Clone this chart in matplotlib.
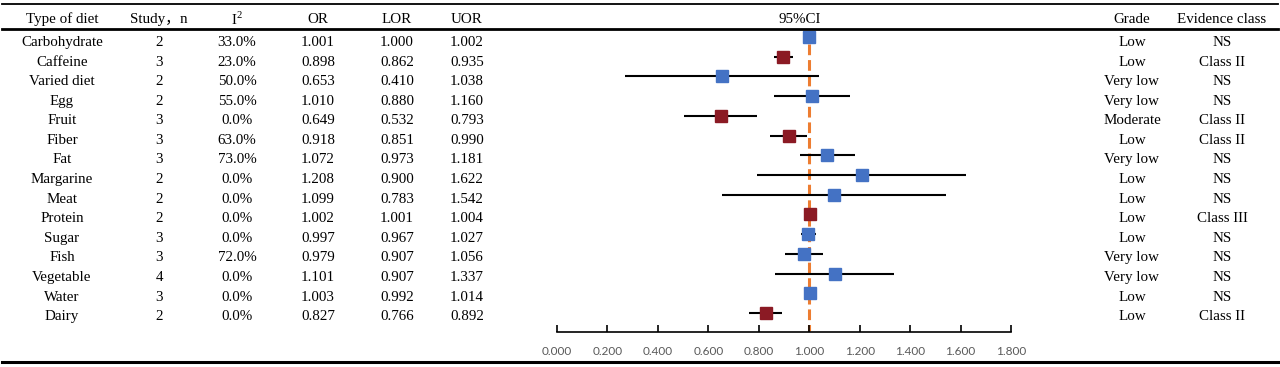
import matplotlib
matplotlib.use('Agg')
import numpy as np
import matplotlib.pyplot as plt
from matplotlib.lines import Line2D
import matplotlib.transforms as mtransforms

plt.rcParams['font.family'] = ['Liberation Serif', 'Noto Sans CJK SC']
plt.rcParams['mathtext.fontset'] = 'custom'
plt.rcParams['mathtext.rm'] = 'Liberation Serif'

diets = ['Carbohydrate', 'Caffeine', 'Varied diet', 'Egg', 'Fruit', 'Fiber', 'Fat',
         'Margarine', 'Meat', 'Protein', 'Sugar', 'Fish', 'Vegetable', 'Water', 'Dairy']
studies = [2, 3, 2, 2, 3, 3, 3, 2, 2, 2, 3, 3, 4, 3, 2]
i2 = [33.0, 23.0, 50.0, 55.0, 0.0, 63.0, 73.0, 0.0, 0.0, 0.0, 0.0, 72.0, 0.0, 0.0, 0.0]
or_vals = [1.001, 0.898, 0.653, 1.010, 0.649, 0.918, 1.072, 1.208, 1.099, 1.002,
           0.997, 0.979, 1.101, 1.003, 0.827]
lor = [1.000, 0.862, 0.410, 0.880, 0.532, 0.851, 0.973, 0.900, 0.783, 1.001,
       0.967, 0.907, 0.907, 0.992, 0.766]
uor = [1.002, 0.935, 1.038, 1.160, 0.793, 0.990, 1.181, 1.622, 1.542, 1.004,
       1.027, 1.056, 1.337, 1.014, 0.892]
grade = ['Low', 'Low', 'Very low', 'Very low', 'Moderate', 'Low', 'Very low', 'Low',
         'Low', 'Low', 'Low', 'Very low', 'Very low', 'Low', 'Low']
evidence = ['NS', 'Class II', 'NS', 'NS', 'Class II', 'Class II', 'NS', 'NS', 'NS',
            'Class III', 'NS', 'NS', 'NS', 'NS', 'Class II']
x_ticks = [0.0, 0.2, 0.4, 0.6, 0.8, 1.0, 1.2, 1.4, 1.6, 1.8]

W, H = 1280, 367
fig = plt.figure(figsize=(W / 100, H / 100), dpi=100)

row0, step = 37, 19.72  # pixel y of first marker row, row spacing
def py(p):
    # pixel y -> row units
    return (p - row0) / step

ax = fig.add_axes([557 / W, 0, 454 / W, 1])
ax.set_xlim(0, 1.8)
ax.set_ylim(py(H), py(0))
ax.axis('off')

rows = np.arange(len(diets))
blue, red = '#4472C4', '#8B1A24'

# reference line
ax.plot([1, 1], [py(44), py(331)], color='#ED7D31', lw=2.2, ls=(0, (3.5, 1.6)), zorder=1)

# the original error bars are symmetric: OR +/- (UOR - OR)
err = np.array(uor) - np.array(or_vals)
for i in rows:
    c = blue if evidence[i] == 'NS' else red
    ax.errorbar(or_vals[i], i, xerr=err[i], fmt='none', ecolor='black', elinewidth=1.5,
                capsize=0, zorder=2)
    ax.plot(or_vals[i], i, marker='s', ms=8.3, color=c, mec=c, zorder=3)

# x axis
ax2 = fig.add_axes([557 / W, (H - 332) / H, 454 / W, 0.0001])
ax2.set_xlim(0, 1.8)
ax2.set_ylim(0, 1)
for s in ['left', 'right', 'top']:
    ax2.spines[s].set_visible(False)
ax2.spines['bottom'].set_linewidth(1.2)
ax2.set_yticks([])
ax2.set_xticks(x_ticks)
ax2.set_xticklabels(['%.3f' % t for t in x_ticks], family='Lato', fontsize=8.5, color='#595959')
ax2.tick_params(axis='x', direction='in', length=5, width=1.2, pad=10)
ax2.patch.set_visible(False)

# table text (x in figure pixels, y in pixel rows)
tr = mtransforms.blended_transform_factory(fig.transFigure, ax.transData)
fs = 10.8
col_x = [62, 159, 237, 318, 397, 467, 1132, 1222]
headers = ['Type of diet', 'Study\uff0cn', r'$\mathrm{I}^{2}$', 'OR', 'LOR', 'UOR', 'Grade',
           'Evidence class']
for x, h in zip(col_x, headers):
    ax.text(x / W, py(19), h, transform=tr, ha='center', va='center', fontsize=fs)
ax.text(800 / W, py(19), '95%CI', transform=tr, ha='center', va='center', fontsize=fs)

for i in rows:
    vals = [diets[i], str(studies[i]), '%.1f%%' % i2[i], '%.3f' % or_vals[i],
            '%.3f' % lor[i], '%.3f' % uor[i], grade[i], evidence[i]]
    ty = py(42.5 + 19.58 * i)
    for x, v in zip(col_x, vals):
        ax.text(x / W, ty, v, transform=tr, ha='center', va='center', fontsize=fs)

# table rules
for yp, lw in [(4, 1.3), (29, 2.0), (362, 2.2)]:
    fig.add_artist(Line2D([2 / W, 1278 / W], [1 - yp / H, 1 - yp / H], color='black', lw=lw))

fig.savefig('out.png', dpi=100)
